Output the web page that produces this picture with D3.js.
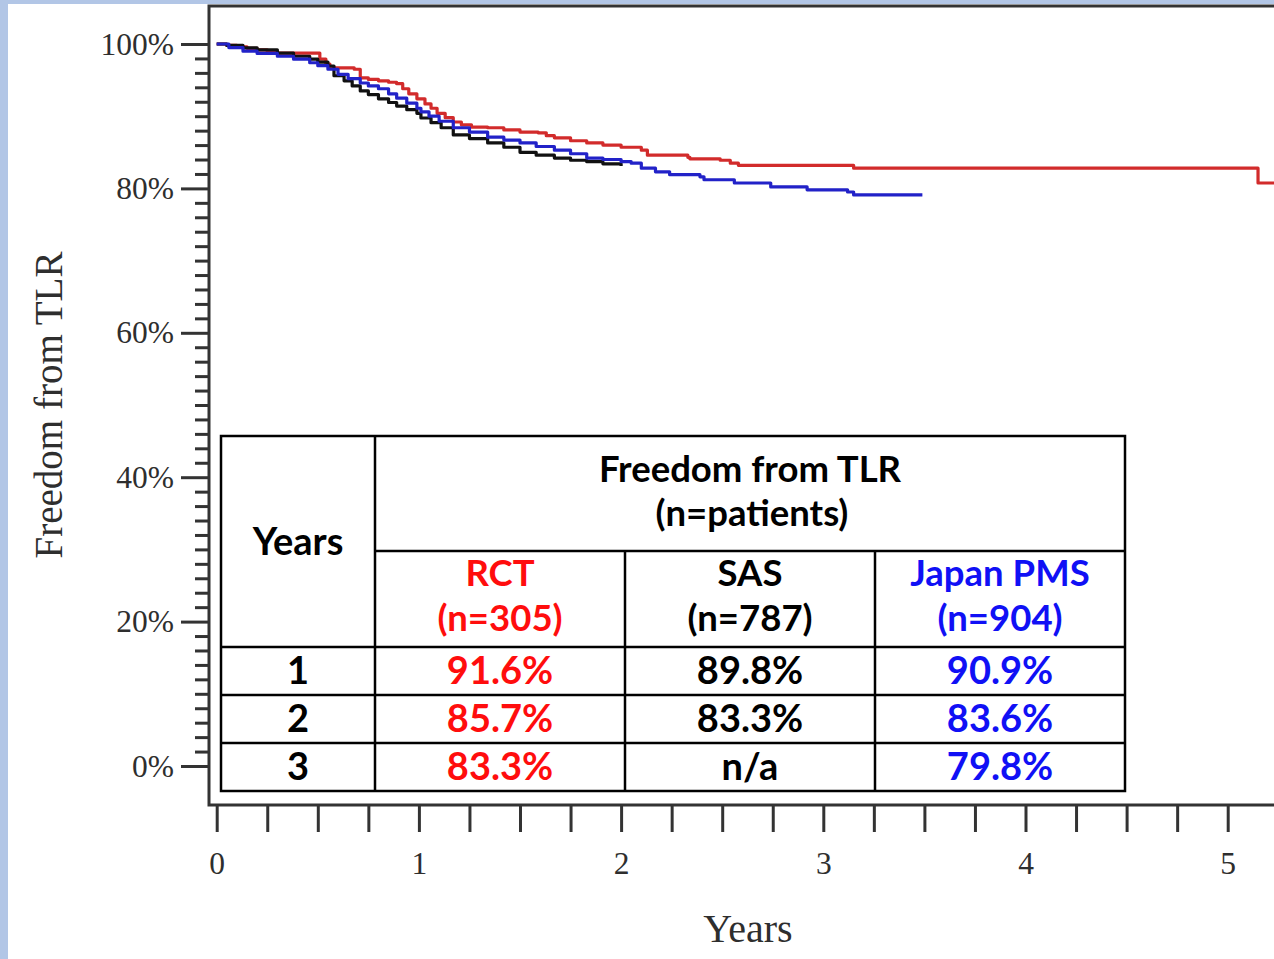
<!DOCTYPE html>
<html>
<head>
<meta charset="utf-8">
<script src="https://cdn.jsdelivr.net/npm/d3@7"></script>
<style>
  html, body { margin: 0; padding: 0; background: #b2c6e6; }
  svg { display: block; }
</style>
</head>
<body>
<div id="chart"></div>
<script>
var width = 1274;
var height = 959;

// Kaplan-Meier curves: [years, percent free from TLR]
var rctCurve = [
  [0, 100], [0.05, 99.8], [0.10, 99.6], [0.15, 99.4], [0.20, 99.2], [0.25, 98.9],
  [0.30, 98.75], [0.48, 98.75], [0.51, 97.9], [0.54, 97.2], [0.56, 96.7], [0.68, 96.5],
  [0.71, 95.3], [0.75, 95.1], [0.80, 94.9], [0.85, 94.7], [0.89, 94.5], [0.92, 93.8],
  [0.95, 93.1], [0.99, 92.4], [1.03, 91.7], [1.06, 91.1], [1.09, 90.4], [1.13, 89.8],
  [1.17, 89.2], [1.21, 88.8], [1.26, 88.5], [1.34, 88.4], [1.42, 88.1], [1.50, 87.8],
  [1.59, 87.7], [1.63, 87.3], [1.67, 87.0], [1.75, 86.6], [1.83, 86.3], [1.91, 86.0],
  [2.00, 85.7], [2.10, 85.3], [2.13, 84.6], [2.33, 84.3], [2.34, 84.1], [2.49, 83.9],
  [2.54, 83.5], [2.58, 83.2], [3.15, 82.8], [5.15, 80.75], [5.30, 80.75]
];
var sasCurve = [
  [0, 100], [0.05, 99.8], [0.13, 99.45], [0.20, 99.2], [0.30, 98.75], [0.38, 98.3],
  [0.46, 97.9], [0.50, 97.5], [0.55, 96.95], [0.58, 95.6], [0.63, 94.9], [0.67, 94.2],
  [0.71, 93.5], [0.75, 93.0], [0.80, 92.4], [0.85, 91.9], [0.89, 91.4], [0.94, 90.9],
  [0.99, 90.4], [1.01, 89.75], [1.06, 89.1], [1.11, 88.4], [1.17, 87.4], [1.25, 86.9],
  [1.34, 86.3], [1.42, 85.7], [1.50, 85.0], [1.58, 84.6], [1.67, 84.2], [1.75, 83.9],
  [1.83, 83.7], [1.91, 83.4], [2.00, 83.1]
];
var pmsCurve = [
  [0, 100], [0.06, 99.5], [0.13, 99.0], [0.20, 98.7], [0.30, 98.3], [0.38, 97.9],
  [0.46, 97.4], [0.50, 97.0], [0.55, 96.5], [0.60, 95.8], [0.65, 95.2], [0.71, 94.6],
  [0.75, 94.2], [0.80, 93.8], [0.85, 93.1], [0.89, 92.5], [0.94, 91.8], [0.99, 91.1],
  [1.01, 90.6], [1.05, 90.0], [1.10, 89.3], [1.17, 88.4], [1.25, 87.8], [1.34, 87.1],
  [1.42, 86.7], [1.50, 86.3], [1.58, 85.8], [1.67, 85.3], [1.75, 84.8], [1.83, 84.2],
  [1.91, 84.0], [2.00, 83.7], [2.05, 83.5], [2.10, 82.8], [2.17, 82.3], [2.24, 81.9],
  [2.39, 81.6], [2.41, 81.2], [2.56, 80.75], [2.74, 80.2], [2.92, 79.8], [3.12, 79.5],
  [3.15, 79.1], [3.49, 79.1]
];

var yMajorTicks = [0, 20, 40, 60, 80, 100];
var yTickLabels = ["0%", "20%", "40%", "60%", "80%", "100%"];
var xMajorTicks = [0, 1, 2, 3, 4, 5];
var xTickLabels = ["0", "1", "2", "3", "4", "5"];

// summary table
var tableTitle = ["Freedom from TLR", "(n=patients)"];
var groupNames = ["RCT", "SAS", "Japan PMS"];
var groupSizes = ["(n=305)", "(n=787)", "(n=904)"];
var tableYears = ["1", "2", "3"];
var rctValues = ["91.6%", "85.7%", "83.3%"];
var sasValues = ["89.8%", "83.3%", "n/a"];
var pmsValues = ["90.9%", "83.6%", "79.8%"];

var groupColors = ["#ff0d0d", "#000000", "#1010f5"];
var lineColors = ["#d22b2b", "#111111", "#2222c8"];

var svg = d3.select("#chart")
  .append("svg")
    .attr("width", width)
    .attr("height", height);

// white slide area
svg.append("rect")
  .attr("x", 8).attr("y", 4)
  .attr("width", width - 8).attr("height", height - 4)
  .attr("fill", "#ffffff");

var x = d3.scaleLinear().domain([0, 5]).range([216.7, 1227.7]);
var y = d3.scaleLinear().domain([0, 100]).range([766, 44]);

var axisLeft = 209, axisBottom = 805, frameTop = 6;
var axisColor = "#333333";

// curves
var line = d3.line()
  .x(d => x(d[0]))
  .y(d => y(d[1]))
  .curve(d3.curveStepAfter);

[rctCurve, sasCurve, pmsCurve].forEach(function(c, i) {
  svg.append("path")
    .datum(c)
    .attr("d", line)
    .attr("fill", "none")
    .attr("stroke", lineColors[i])
    .attr("stroke-width", 3.2)
    .attr("stroke-linejoin", "round");
});

// frame lines
svg.append("path")
  .attr("d", `M${width},${frameTop}H${axisLeft}V${axisBottom}H${width}`)
  .attr("fill", "none")
  .attr("stroke", axisColor)
  .attr("stroke-width", 3);

// y axis: minor ticks every 2%, major every 20%
var yMinor = d3.range(0, 101, 2).filter(v => v % 20 != 0);
var gyMinor = svg.append("g")
  .attr("transform", `translate(${axisLeft},0)`)
  .call(d3.axisLeft(y).tickValues(yMinor).tickSize(14).tickFormat(""));
gyMinor.select(".domain").remove();

var gy = svg.append("g")
  .attr("transform", `translate(${axisLeft},0)`)
  .call(d3.axisLeft(y).tickValues(yMajorTicks).tickSize(28).tickPadding(7)
    .tickFormat((d, i) => yTickLabels[i]));
gy.select(".domain").remove();

// x axis: ticks every quarter year, labels on whole years
var xTicks = d3.range(0, 5.01, 0.25);
var gx = svg.append("g")
  .attr("transform", `translate(0,${axisBottom})`)
  .call(d3.axisBottom(x).tickValues(xTicks).tickSize(27).tickPadding(20)
    .tickFormat(d => {
      var k = xMajorTicks.indexOf(d);
      return k >= 0 ? xTickLabels[k] : "";
    }));
gx.select(".domain").remove();

svg.selectAll(".tick line")
  .attr("stroke", axisColor)
  .attr("stroke-width", 3);
svg.selectAll(".tick text")
  .attr("fill", "#2e2e2e")
  .style("font-family", "'Liberation Serif', 'Times New Roman', serif")
  .style("font-size", "31.5px");

// axis titles
svg.append("text")
  .attr("x", 748).attr("y", 942)
  .attr("text-anchor", "middle")
  .attr("fill", "#2e2e2e")
  .style("font-family", "'Liberation Serif', 'Times New Roman', serif")
  .style("font-size", "40px")
  .text("Years");

svg.append("text")
  .attr("transform", "translate(62,405) rotate(-90)")
  .attr("text-anchor", "middle")
  .attr("fill", "#2e2e2e")
  .style("font-family", "'Liberation Serif', 'Times New Roman', serif")
  .style("font-size", "39px")
  .text("Freedom from TLR");

// table
var colX = [221, 375, 625, 875, 1125];
var rowY = [436, 551, 647, 695, 743, 791];
var tbl = svg.append("g");

tbl.append("rect")
  .attr("x", colX[0]).attr("y", rowY[0])
  .attr("width", colX[4] - colX[0]).attr("height", rowY[5] - rowY[0])
  .attr("fill", "#ffffff")
  .attr("stroke", "#000").attr("stroke-width", 2.5);

var segs = [
  [colX[1], rowY[0], colX[1], rowY[5]],
  [colX[2], rowY[1], colX[2], rowY[5]],
  [colX[3], rowY[1], colX[3], rowY[5]],
  [colX[1], rowY[1], colX[4], rowY[1]],
  [colX[0], rowY[2], colX[4], rowY[2]],
  [colX[0], rowY[3], colX[4], rowY[3]],
  [colX[0], rowY[4], colX[4], rowY[4]]
];
tbl.selectAll("line.grid").data(segs).enter().append("line")
  .attr("class", "grid")
  .attr("x1", d => d[0]).attr("y1", d => d[1])
  .attr("x2", d => d[2]).attr("y2", d => d[3])
  .attr("stroke", "#000").attr("stroke-width", 2.5);

function cellText(tx, ty, s, color, size) {
  tbl.append("text")
    .attr("x", tx).attr("y", ty)
    .attr("text-anchor", "middle")
    .attr("fill", color)
    .style("font-family", "Lato, 'Open Sans', sans-serif")
    .style("font-weight", "bold")
    .style("font-size", (size || 38) + "px")
    .text(s);
}

var mid = i => (colX[i] + colX[i + 1]) / 2;

cellText((colX[1] + colX[4]) / 2, 482, tableTitle[0], "#000", 36.5);
cellText((colX[1] + colX[4]) / 2 + 2, 526, tableTitle[1], "#000", 36.5);
cellText(mid(0), 555, "Years", "#000");

groupNames.forEach(function(g, i) {
  cellText(mid(i + 1), 586, g, groupColors[i], 36.5);
  cellText(mid(i + 1), 631, groupSizes[i], groupColors[i], 36.5);
});

[rctValues, sasValues, pmsValues].forEach(function(vals, i) {
  vals.forEach(function(v, r) {
    cellText(mid(i + 1), (rowY[r + 2] + rowY[r + 3]) / 2 + 13, v, groupColors[i]);
  });
});
tableYears.forEach(function(v, r) {
  cellText(mid(0), (rowY[r + 2] + rowY[r + 3]) / 2 + 13, v, "#000");
});
</script>
</body>
</html>
